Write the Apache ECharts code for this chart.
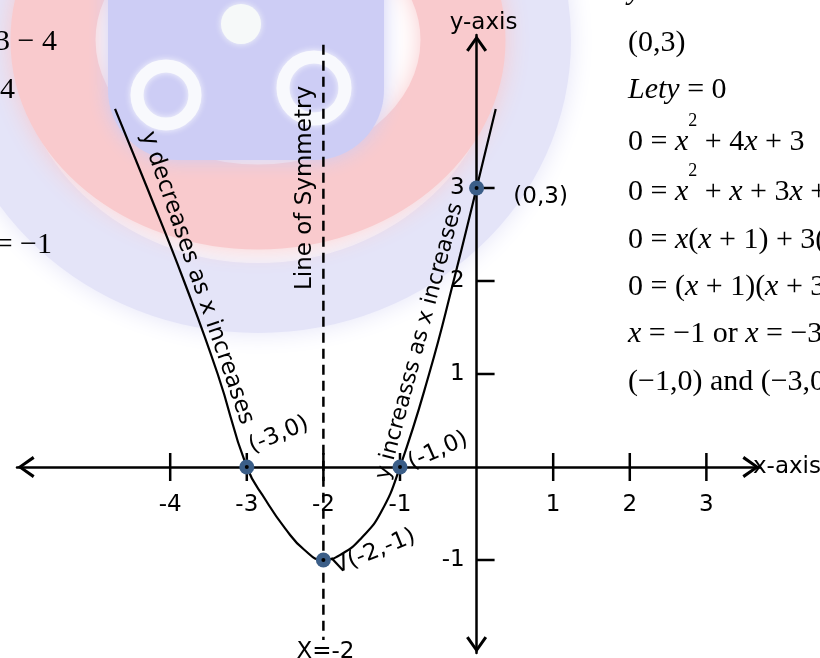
<!DOCTYPE html>
<html>
<head>
<meta charset="utf-8">
<script src="https://cdn.jsdelivr.net/npm/echarts@6/dist/echarts.min.js"></script>
<style>
  html, body { margin: 0; padding: 0; background: #fff; }
  #chart { width: 820px; height: 658px; }
</style>
</head>
<body>
<div id="chart"></div>
<script>
// Sketch of y = x^2 + 4x + 3 on hand-ruled axes, with its intercepts and vertex.

// tick values that carry a mark and a label
const xTicks = [-4, -3, -2, -1, 1, 2, 3];
const yTicks = [-1, 1, 2, 3];

// points (x, y in axis units)
const curveX = [-4.72, -4.30, -3.82, -3.38, -3.00, -2.75, -2.50, -2.25, -2.00, -1.75, -1.50, -1.25, -1.00, -0.62, -0.30, 0.00, 0.25];
const curveY = [3.85, 3.00, 2.00, 1.00, 0.00, -0.36, -0.66, -0.89, -1.00, -0.93, -0.76, -0.49, 0.00, 1.00, 2.00, 3.00, 3.85];

// intercepts and vertex
const keyX = [-3, -1, -2, 0];
const keyY = [0, 0, -1, 3];
const keyText = ['(-3,0)', '(-1,0)', 'V(-2,-1)', '(0,3)'];

// line of symmetry x = -2
const symX = -2;
const symY = [4.54, -1.86];

const SANS = 'DejaVu Sans';
const SERIF = 'Liberation Serif';
const INK = '#000';
const DOT = '#3b5e88';
const FS = 23;

// open chevron arrow head, apex up
const CHEVRON = 'path://M10 0 L20 14 L17.6 15.6 L10 4.6 L2.4 15.6 L0 14 Z';

const option = {
  animation: false,
  backgroundColor: '#fff',
  grid: { left: 17, right: 60, top: 35, bottom: 5, containLabel: false, outerBoundsMode: 'none' },
  xAxis: {
    type: 'value', min: -6, max: 3.7, interval: 1,
    axisLine: {
      onZero: true,
      lineStyle: { color: INK, width: 2.5 },
      symbol: [CHEVRON, CHEVRON], symbolSize: [22, 18], symbolOffset: [9, -9]
    },
    axisTick: { show: false },
    axisLabel: { show: false },
    splitLine: { show: false },
    name: 'x-axis', nameLocation: 'end', nameGap: -7,
    nameTextStyle: { color: INK, fontFamily: SANS, fontSize: FS }
  },
  yAxis: {
    type: 'value', min: -2, max: 4.645, interval: 1,
    axisLine: {
      onZero: true,
      lineStyle: { color: INK, width: 2.5 },
      symbol: [CHEVRON, CHEVRON], symbolSize: [21, 17], symbolOffset: [8.5, -8.5]
    },
    axisTick: { show: false },
    axisLabel: { show: false },
    splitLine: { show: false },
    name: 'y-axis', nameLocation: 'end', nameGap: 0,
    nameTextStyle: { color: INK, fontFamily: SANS, fontSize: FS, padding: [0, 0, 0, 14] }
  },
  series: [
    { // tick marks crossing the x-axis, labelled underneath
      type: 'scatter', silent: true, z: 3,
      data: xTicks.map(v => [v, 0]),
      symbol: 'rect', symbolSize: [2.5, 28],
      itemStyle: { color: INK, opacity: 1 },
      label: {
        show: true, position: 'bottom', distance: 13,
        color: INK, fontFamily: SANS, fontSize: FS,
        formatter: p => String(p.value[0])
      }
    },
    { // tick marks to the right of the y-axis
      type: 'scatter', silent: true, z: 3,
      data: yTicks.map(v => [0, v]),
      symbol: 'rect', symbolSize: [18, 2.5], symbolOffset: [9, 0],
      itemStyle: { color: INK, opacity: 1 }
    },
    { // line of symmetry
      type: 'line', silent: true, z: 2,
      data: symY.map(y => [symX, y]),
      showSymbol: false,
      lineStyle: { color: INK, width: 2.5, type: [10, 6] }
    },
    { // the parabola
      type: 'line', silent: true, z: 4,
      data: curveX.map((x, i) => [x, curveY[i]]),
      smooth: 0.5, showSymbol: false,
      lineStyle: { color: INK, width: 2.2 }
    },
    { // key points
      type: 'scatter', silent: true, z: 5,
      data: keyX.map((x, i) => [x, keyY[i]]),
      symbol: 'circle', symbolSize: 15,
      itemStyle: { color: DOT, opacity: 1 }
    },
    {
      type: 'scatter', silent: true, z: 6,
      data: keyX.map((x, i) => [x, keyY[i]]),
      symbol: 'circle', symbolSize: 4,
      itemStyle: { color: INK, opacity: 1 }
    }
  ]
};

const chart = echarts.init(document.getElementById('chart'));
chart.setOption(option);

const toPx = (x, y) => chart.convertToPixel({ gridIndex: 0 }, [x, y]);
const rad = d => d * Math.PI / 180;

function sansText(text, p, dx, dy, rotDeg, opts) {
  const o = opts || {};
  const a = o.align || 'center';
  return {
    type: 'text', silent: true, z: o.z || 50,
    x: p[0] + dx, y: p[1] + dy, rotation: rad(rotDeg || 0),
    style: {
      text, fill: INK, font: (o.size || FS) + 'px "' + SANS + '"',
      align: a, verticalAlign: 'middle',
      textAlign: a, textVerticalAlign: 'middle'
    }
  };
}

// rich-text styles for the worked algebra
const mathRich = {
  n: { fontFamily: SERIF, fontSize: 30, color: INK, lineHeight: 60 },
  i: { fontFamily: SERIF, fontSize: 30, fontStyle: 'italic', color: INK, lineHeight: 60 },
  s: { fontFamily: SERIF, fontSize: 18, color: INK, lineHeight: 24, verticalAlign: 'top' }
};
function mathText(tokens, x, y, align) {
  return {
    type: 'text', silent: true, z: 40, x, y,
    style: {
      text: tokens.map(t => '{' + t[0] + '|' + t[1] + '}').join(''),
      rich: mathRich,
      align: align || 'left', verticalAlign: 'middle',
      textAlign: align || 'left', textVerticalAlign: 'middle'
    }
  };
}

const solution = [
  [['i', 'y'], ['n', ' = 3']],
  [['n', '(0,3)']],
  [['i', 'Lety'], ['n', ' = 0']],
  [['n', '0 = '], ['i', 'x'], ['s', '2'], ['n', ' + 4'], ['i', 'x'], ['n', ' + 3']],
  [['n', '0 = '], ['i', 'x'], ['s', '2'], ['n', ' + '], ['i', 'x'], ['n', ' + 3'], ['i', 'x'], ['n', ' + 3']],
  [['n', '0 = '], ['i', 'x'], ['n', '('], ['i', 'x'], ['n', ' + 1) + 3('], ['i', 'x'], ['n', ' + 1)']],
  [['n', '0 = ('], ['i', 'x'], ['n', ' + 1)('], ['i', 'x'], ['n', ' + 3)']],
  [['i', 'x'], ['n', ' = −1 or '], ['i', 'x'], ['n', ' = −3']],
  [['n', '(−1,0) and (−3,0)']]
];
const solutionRows = [-9, 43, 90, 142, 192, 240, 287, 334, 382];

// faded crest in the background
const crest = [
  { type: 'ellipse', shape: { cx: 258, cy: 40, rx: 278, ry: 258 },
    style: { fill: 'none', stroke: '#e4e4f8', lineWidth: 70, shadowBlur: 24, shadowColor: '#e4e4f8' } },
  { type: 'ellipse', shape: { cx: 258, cy: 40, rx: 205, ry: 167 },
    style: { fill: 'none', stroke: '#f9cacd', lineWidth: 85, shadowBlur: 24, shadowColor: '#f9cacd' } },
  { type: 'rect', shape: { x: 108, y: -40, width: 276, height: 200, r: [0, 0, 70, 70] },
    style: { fill: '#cdcdf5', shadowBlur: 20, shadowColor: '#cdcdf5' } },
  { type: 'circle', shape: { cx: 166, cy: 95, r: 29 },
    style: { fill: 'none', stroke: '#f8f9fd', lineWidth: 13, shadowBlur: 6, shadowColor: '#f8f9fd' } },
  { type: 'circle', shape: { cx: 314, cy: 88, r: 31 },
    style: { fill: 'none', stroke: '#f8f9fd', lineWidth: 13, shadowBlur: 6, shadowColor: '#f8f9fd' } },
  { type: 'circle', shape: { cx: 241, cy: 24, r: 20 },
    style: { fill: '#f6f9f9', shadowBlur: 6, shadowColor: '#f6f9f9' } }
].map(e => Object.assign(e, { silent: true, z: -5 }));

const pKey = keyX.map((x, i) => toPx(x, keyY[i]));
const annotations = [
  sansText(keyText[0], pKey[0], 32, -32, 23),
  sansText(keyText[1], pKey[1], 38, -16, 24),
  sansText(keyText[2], pKey[2], 51, -8, 22),
  sansText(keyText[3], pKey[3], 64, 9, 0),
  sansText('y decreases as x increases', toPx(-3.82, 2), 13, -3, -71),
  sansText('y increasss as x increases', toPx(-0.51, 1.33), -18, -2, 75, { size: 22 }),
  sansText('Line of Symmetry', toPx(symX, 3), -18, 0, 90),
  sansText('X=-2', toPx(symX, symY[1]), 2, 12, 0)
];
// y tick labels, to the left of the axis
const yLabels = yTicks.map(v => sansText(String(v), toPx(0, v), -12, 0, 0, { align: 'right', z: 45 }));

const algebra = solution.map((tokens, i) => mathText(tokens, 628, solutionRows[i]));
const leftColumn = [
  mathText([['n', '3 − 4']], 57, 42, 'right'),
  mathText([['n', '4']], 15, 90, 'right'),
  mathText([['n', '= −1']], 52, 245, 'right')
];

chart.setOption({ graphic: crest.concat(annotations, yLabels, algebra, leftColumn) });
</script>
</body>
</html>
